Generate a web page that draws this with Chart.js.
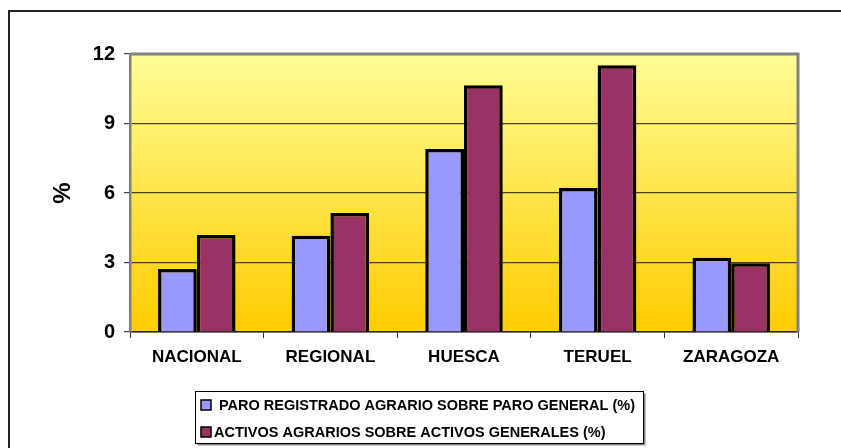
<!DOCTYPE html>
<html>
<head>
<meta charset="utf-8">
<script src="https://cdn.jsdelivr.net/npm/chart.js@4"></script>
<style>
  body { margin: 0; background: #fff; }
  canvas { display: block; }
</style>
</head>
<body>
<canvas id="agro-chart" width="841" height="448"></canvas>
<script>
const zonas = ["NACIONAL", "REGIONAL", "HUESCA", "TERUEL", "ZARAGOZA"];
const paroAgrario = [2.72, 4.16, 7.9, 6.22, 3.21];
const activosAgrarios = [4.19, 5.14, 10.65, 11.51, 2.97];
const yTicks = [0, 3, 6, 9, 12];

// Frame, plot background and the boxed legend under the axis
const chartDecor = {
  id: "chartDecor",
  beforeDraw(chart) {
    const { ctx, chartArea: a } = chart;
    ctx.save();
    ctx.strokeStyle = "#222";
    ctx.lineWidth = 2;
    ctx.beginPath();
    ctx.moveTo(9, chart.height + 2);
    ctx.lineTo(9, 11);
    ctx.lineTo(chart.width + 2, 11);
    ctx.stroke();

    const grad = ctx.createLinearGradient(0, a.top, 0, a.bottom);
    grad.addColorStop(0, "#FFFD96");
    grad.addColorStop(1, "#FFCC00");
    ctx.fillStyle = grad;
    ctx.fillRect(a.left, a.top, a.right - a.left, a.bottom - a.top);
    ctx.restore();
  },
  afterDraw(chart) {
    const { ctx, chartArea: a } = chart;
    ctx.save();
    ctx.strokeStyle = "#808080";
    ctx.lineWidth = 3;
    ctx.beginPath();
    ctx.moveTo(a.left, a.top);
    ctx.lineTo(a.right, a.top);
    ctx.lineTo(a.right, a.bottom);
    ctx.stroke();

    // legend box
    const box = { x: 195.5, y: 391.5, w: 448, h: 52 };
    ctx.fillStyle = "#888";
    ctx.fillRect(box.x + 2, box.y + 2, box.w, box.h);
    ctx.fillStyle = "#fff";
    ctx.fillRect(box.x, box.y, box.w, box.h);
    ctx.strokeStyle = "#000";
    ctx.lineWidth = 1;
    ctx.strokeRect(box.x, box.y, box.w, box.h);

    ctx.font = "bold 14.5px 'Liberation Sans', Arial, sans-serif";
    ctx.textBaseline = "middle";
    chart.data.datasets.forEach((ds, i) => {
      const cy = 405 + i * 27;
      ctx.fillStyle = ds.backgroundColor;
      ctx.fillRect(201, cy - 5, 10, 10);
      ctx.strokeStyle = "#000";
      ctx.lineWidth = 1.5;
      ctx.strokeRect(201, cy - 5, 10, 10);
      ctx.fillStyle = "#000";
      ctx.fillText(ds.label, i === 0 ? 219 : 214, cy + 1);
    });
    ctx.restore();
  },
};

new Chart(document.getElementById("agro-chart"), {
  type: "bar",
  data: {
    labels: zonas,
    datasets: [
      {
        label: "PARO REGISTRADO AGRARIO SOBRE PARO GENERAL (%)",
        data: paroAgrario,
        backgroundColor: "#9999FF",
        borderColor: "#000",
        borderWidth: 3.5,
        barPercentage: 1,
        categoryPercentage: 0.58,
      },
      {
        label: "ACTIVOS AGRARIOS SOBRE ACTIVOS GENERALES (%)",
        data: activosAgrarios,
        backgroundColor: "#993366",
        borderColor: "#000",
        borderWidth: 3.5,
        barPercentage: 1,
        categoryPercentage: 0.58,
      },
    ],
  },
  options: {
    responsive: false,
    animation: false,
    layout: { padding: { left: 45, top: 54, right: 43, bottom: 0 } },
    plugins: {
      legend: { display: false },
      tooltip: { enabled: false },
    },
    scales: {
      x: {
        afterFit: (scale) => { scale.height = 116; },
        grid: {
          drawOnChartArea: false,
          drawTicks: true,
          tickLength: 6,
          color: "#333",
        },
        border: { color: "#222", width: 1.5 },
        ticks: {
          color: "#000",
          padding: 9,
          font: { family: "'Liberation Sans', Arial, sans-serif", size: 17, weight: "bold" },
        },
      },
      y: {
        min: 0,
        max: 12,
        afterFit: (scale) => { scale.width = 85; },
        afterBuildTicks: (scale) => {
          scale.ticks = yTicks.map((v) => ({ value: v }));
        },
        grid: {
          color: "rgba(30,25,0,0.8)",
          lineWidth: 1.2,
          tickLength: 6,
          tickColor: "#444",
        },
        border: { color: "#808080", width: 2.5 },
        ticks: {
          color: "#000",
          padding: 9,
          font: { family: "'Liberation Sans', Arial, sans-serif", size: 20, weight: "bold" },
        },
        title: {
          display: true,
          text: "%",
          color: "#000",
          font: { family: "'Liberation Sans', Arial, sans-serif", size: 24, weight: "bold" },
        },
      },
    },
  },
  plugins: [chartDecor],
});
</script>
</body>
</html>
